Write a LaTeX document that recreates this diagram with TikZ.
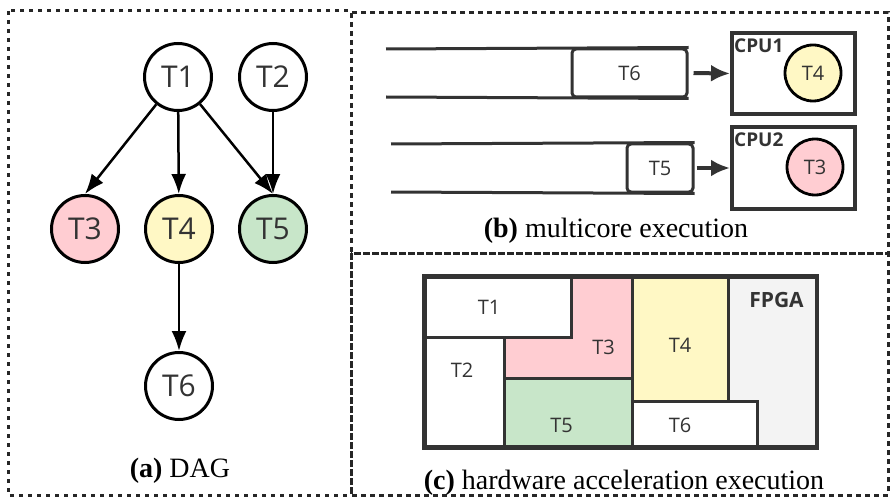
\documentclass[tikz,border=0pt]{standalone}
\usepackage{xcolor}
\usepackage{fontspec}
\setmainfont{Liberation Serif}
\newfontfamily\taskfont{Open Sans}
\usepackage{tikz}
\usetikzlibrary{calc}
\usetikzlibrary{arrows.meta}
\usetikzlibrary{positioning}
\tikzset{>=latex}
\definecolor{pinkT}{HTML}{FFCDD2}
\definecolor{yellowT}{HTML}{FFF8C5}
\definecolor{greenT}{HTML}{C8E6C9}
\definecolor{fpgaG}{HTML}{F3F3F3}
\definecolor{darkG}{HTML}{333333}
\tikzstyle{task} = [circle, draw=black, line width=3pt, minimum size=67pt, inner sep=0, text=darkG, font=\taskfont\fontsize{30}{30}\selectfont]
\tikzstyle{dep} = [-{Latex[length=20pt,width=15pt]}, line width=2.5pt, draw=black]
\tikzstyle{qbox} = [draw=darkG, line width=3pt, rounded corners=4pt, inner sep=0, text=darkG, font=\taskfont\fontsize{20}{20}\selectfont]
\tikzstyle{qline} = [draw=darkG, line width=3pt]
\tikzstyle{qarrow} = [-{Latex[length=19pt,width=17pt]}, line width=4pt, draw=darkG]
\tikzstyle{cpu} = [draw=darkG, line width=4pt, minimum width=123pt, inner sep=0]
\tikzstyle{core} = [task, line width=2.8pt, minimum size=56pt, font=\taskfont\fontsize{20}{20}\selectfont]
\tikzstyle{tag} = [inner sep=0, text=darkG, font=\taskfont\bfseries\fontsize{19}{19}\selectfont]
\tikzstyle{slot} = [draw=darkG, line width=3pt]
\tikzstyle{slotlab} = [inner sep=0, text=darkG, font=\taskfont\fontsize{20}{20}\selectfont]
\tikzstyle{caption} = [inner sep=0, anchor=base, font=\fontsize{28}{28}\selectfont]
\tikzstyle{panel} = [draw=black!85, line width=3pt]

\begin{document}
\begin{tikzpicture}[x=1pt, y=-1pt]
\useasboundingbox (0,0) rectangle (890,497);

% panel frames
\draw [panel, dash pattern=on 4pt off 5pt] (8,11) rectangle (351,495);
\draw [panel, dash pattern=on 5pt off 4pt] (351,13) rectangle (888,253);
\draw [panel, dash pattern=on 5pt off 4pt] (351,253) rectangle (888,495);

% (a) DAG
\node [task] (T1) at (178,77) {T1};
\node [task] (T2) at (273,77) {T2};
\node [task, fill=pinkT] (T3) at (85,229) {T3};
\node [task, fill=yellowT] (T4) at (179,229) {T4};
\node [task, fill=greenT] (T5) at (273,229) {T5};
\node [task] (T6) at (179,386) {T6};
\draw [dep] (T1) to (T3.north);
\draw [dep] (T1) to (T4);
\draw [dep] (T1) to (T5.north);
\draw [dep] (T2) to (T5);
\draw [dep] (T4) to (T6);
\node [caption] (capA) at (180,477) {\textbf{(a)} DAG};

% (b) multicore execution
\node [qbox, minimum width=115pt, minimum height=48pt] (q6) at (629.5,73) {T6};
\node [qbox, minimum width=66pt, minimum height=48pt] (q5) at (660,168) {T5};
\draw [qline] (386,49) -- (q6.north east);
\draw [qline] (386,97) -- (q6.south east);
\draw [qline] (391,144) -- (q5.north east);
\draw [qline] (391,192) -- (q5.south east);
\node [cpu, minimum height=81pt] (cpu1) at (793.5,73.5) {};
\node [cpu, minimum height=82pt] (cpu2) at (793.5,168) {};
\node [tag, anchor=north west] (cpu1lab) at (734,39) {CPU1};
\node [tag, anchor=north west] (cpu2lab) at (734,133) {CPU2};
\node [core, fill=yellowT] (c4) at (813,73) {T4};
\node [core, fill=pinkT] (c3) at (815,167) {T3};
\draw [qarrow, shorten <=5pt] (q6.east) -- (cpu1.west);
\draw [qarrow, shorten <=2pt] (q5.east) -- (cpu2.west);
\node [caption] (capB) at (616,237) {\textbf{(b)} multicore execution};

% (c) hardware acceleration execution
\draw [fill=fpgaG, draw=darkG, line width=4.5pt] (424.5,276.5) rectangle (817,447.5);
\draw [slot, fill=white] (424.5,276.5) rectangle (571.5,337.5);
\draw [slot, fill=white] (424.5,337.5) rectangle (504,447.5);
\draw [slot, fill=pinkT] (571.5,276.5) -- (632,276.5) -- (632,378.5) -- (504,378.5) -- (504,337.5) -- (571.5,337.5) -- cycle;
\draw [slot, fill=greenT] (504,378.5) rectangle (632,447.5);
\draw [slot, fill=yellowT] (632,276.5) rectangle (728,401);
\draw [slot, fill=white] (632,401) rectangle (757.5,447.5);
\draw [draw=darkG, line width=4.5pt] (424.5,276.5) rectangle (817,447.5);
\node [slotlab] (s1) at (489,307.5) {T1};
\node [slotlab] (s2) at (462,370) {T2};
\node [slotlab] (s3) at (603.5,347.5) {T3};
\node [slotlab] (s4) at (680,345) {T4};
\node [slotlab] (s5) at (561.5,425) {T5};
\node [slotlab] (s6) at (680,425) {T6};
\node [tag, font=\taskfont\bfseries\fontsize{21}{21}\selectfont] (fpga) at (776.5,299.5) {FPGA};
\node [caption] (capC) at (624,489) {\textbf{(c)} hardware acceleration execution};
\end{tikzpicture}
\end{document}
